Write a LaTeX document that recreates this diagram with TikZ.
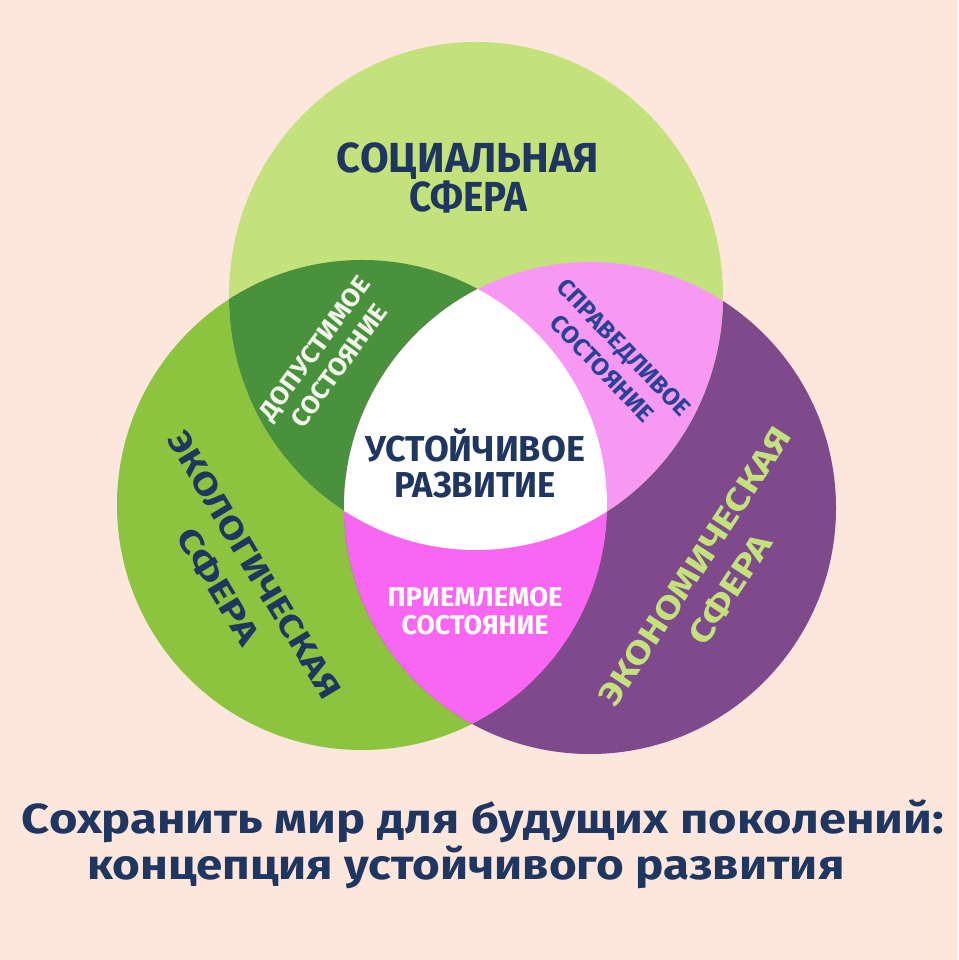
\documentclass[tikz,border=0pt]{standalone}
\usepackage{fontspec}
\setmainfont{Fira Sans}
\usepackage{graphicx}
\definecolor{bgc}{RGB}{253,230,219}
\definecolor{topc}{RGB}{195,226,123}
\definecolor{leftc}{RGB}{140,196,63}
\definecolor{rightc}{RGB}{126,74,140}
\definecolor{dgreen}{RGB}{74,145,61}
\definecolor{lpink}{RGB}{247,152,242}
\definecolor{magc}{RGB}{248,102,242}
\definecolor{navy}{RGB}{30,54,96}
\definecolor{bluetx}{RGB}{40,66,150}
\definecolor{offw}{RGB}{242,247,235}
\newcommand{\fw}[2]{\resizebox{#1}{\height}{#2}}
\begin{document}
\begin{tikzpicture}[x=1pt,y=1pt,
  lbl/.style={inner sep=0pt, align=center},
  ttl/.style={inner sep=0pt, anchor=base, font=\fontsize{42}{45}\selectfont\bfseries, text=navy}]
\useasboundingbox (0,0) rectangle (958,960);
\fill[bgc] (0,0) rectangle (958,960);
\coordinate (cT) at (476,664);
\coordinate (cL) at (362,455);
\coordinate (cR) at (590,452);
\def\cirT{(cT) ellipse[x radius=247pt, y radius=254pt]}
\def\cirL{(cL) circle[radius=245pt]}
\def\cirR{(cR) circle[radius=246pt]}
\fill[leftc] \cirL;
\fill[rightc] \cirR;
\fill[topc] \cirT;
\begin{scope}\clip \cirT; \fill[dgreen] \cirL; \end{scope}
\begin{scope}\clip \cirT; \fill[lpink] \cirR; \end{scope}
\begin{scope}\clip \cirL; \fill[magc] \cirR; \end{scope}
\begin{scope}\clip \cirT; \clip \cirL; \fill[white] \cirR; \end{scope}

\node[lbl, font=\fontsize{42}{39}\selectfont\bfseries, text=navy] (soc) at (468,782)
  {\fw{262pt}{СОЦИАЛЬНАЯ}\\\fw{118pt}{СФЕРА}};
\node[lbl, font=\fontsize{36}{36}\selectfont\bfseries, text=navy] (ust) at (475,497)
  {\fw{220pt}{УСТОЙЧИВОЕ}\\\fw{162pt}{РАЗВИТИЕ}};
\node[lbl, font=\fontsize{27}{28}\selectfont\bfseries, text=white] (prim) at (475,349)
  {\fw{175pt}{ПРИЕМЛЕМОЕ}\\\fw{147pt}{СОСТОЯНИЕ}};
\node[lbl, font=\fontsize{25}{30}\selectfont\bfseries, text=offw, rotate=54] (dop) at (327,603)
  {\fw{170pt}{ДОПУСТИМОЕ}\\\fw{145pt}{СОСТОЯНИЕ}};
\node[lbl, font=\fontsize{24}{30}\selectfont\bfseries, text=bluetx, rotate=-46] (spr) at (613,602)
  {\fw{180pt}{СПРАВЕДЛИВОЕ}\\\fw{138pt}{СОСТОЯНИЕ}};
\node[lbl, font=\fontsize{32}{42}\selectfont\bfseries, text=navy, rotate=-59] (eco) at (236,384)
  {\fw{305pt}{ЭКОЛОГИЧЕСКАЯ}\\\fw{130pt}{СФЕРА}};
\node[lbl, font=\fontsize{32}{42}\selectfont\bfseries, text=topc, rotate=57] (econ) at (713,382)
  {\fw{325pt}{ЭКОНОМИЧЕСКАЯ}\\\fw{125pt}{СФЕРА}};
\node[ttl] (t1) at (483,126)
  {\fw{922pt}{Сохранить мир для будущих поколений:}};
\node[ttl] (t2) at (466,80)
  {\fw{757pt}{концепция устойчивого развития}};
\end{tikzpicture}
\end{document}
